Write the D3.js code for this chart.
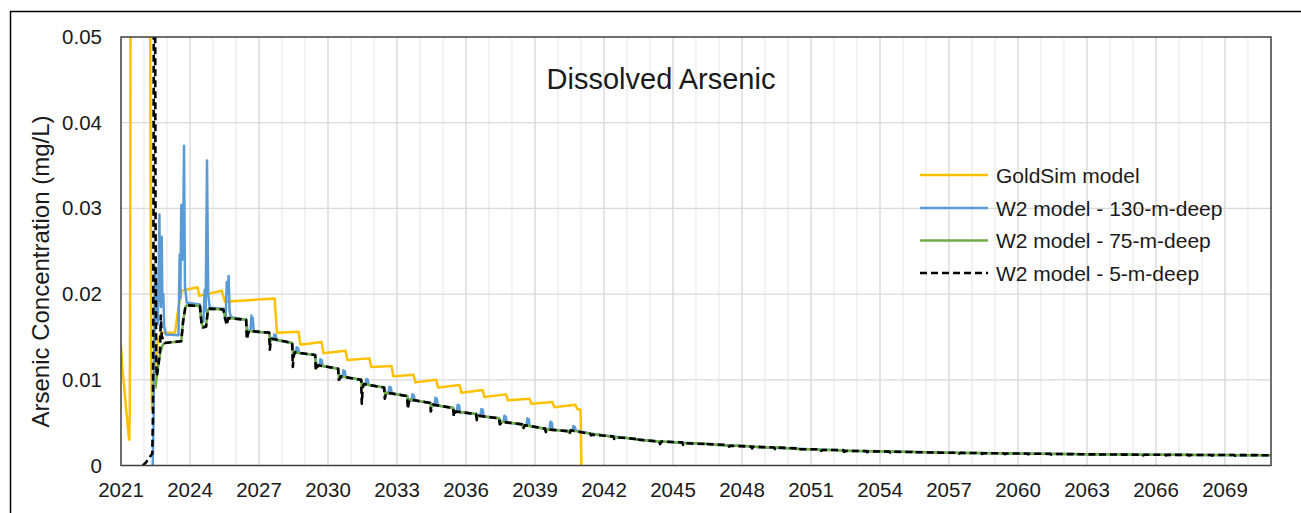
<!DOCTYPE html>
<html>
<head>
<meta charset="utf-8">
<script src="https://cdn.jsdelivr.net/npm/d3@7"></script>
<style>
  body { margin: 0; background: #fff; }
  svg { display: block; }
  text { font-family: "Liberation Sans", Arial, Helvetica, sans-serif; fill: #1a1a1a; }
</style>
</head>
<body>
<svg id="chart" width="1301" height="513"></svg>
<script>
// ---- Data: [decimal year, arsenic concentration in mg/L] ----
const goldsim = [
  [2021.00, 0.0140], [2021.05, 0.0115], [2021.13, 0.0094], [2021.20, 0.0073],
  [2021.27, 0.0052], [2021.33, 0.0035], [2021.36, 0.0030], [2021.38, 0.0060],
  [2021.40, 0.0250], [2021.42, 0.0620], [2021.85, 0.0800], [2022.26, 0.0620],
  [2022.29, 0.0300], [2022.32, 0.0110], [2022.35, 0.0066], [2022.38, 0.0068],
  [2022.45, 0.0105], [2022.60, 0.0145], [2022.75, 0.0155], [2023.35, 0.0155],
  [2023.50, 0.0185], [2023.64, 0.0204], [2024.33, 0.0208], [2024.40, 0.0198],
  [2024.72, 0.0200], [2025.38, 0.0204], [2025.52, 0.0191], [2027.68, 0.0195],
  [2027.78, 0.0155], [2028.72, 0.0156], [2028.80, 0.0141], [2029.72, 0.0144],
  [2029.80, 0.0131], [2030.76, 0.0134], [2030.84, 0.0123], [2031.80, 0.0125],
  [2031.88, 0.0115], [2032.76, 0.0116], [2032.84, 0.0104], [2033.72, 0.0106],
  [2033.80, 0.0097], [2034.70, 0.0100], [2034.78, 0.0091], [2035.72, 0.0094],
  [2035.80, 0.0085], [2036.72, 0.0088], [2036.80, 0.0080], [2037.74, 0.0083],
  [2037.82, 0.0076], [2038.76, 0.0078], [2038.84, 0.0072], [2039.76, 0.0074],
  [2039.84, 0.0068], [2040.76, 0.0071], [2040.84, 0.0066], [2040.98, 0.0065],
  [2041.02, 0.0000]
];

const w2Deep130 = [
  [2022.38, 0.0000], [2022.42, 0.0060], [2022.45, 0.0150], [2022.48, 0.0232],
  [2022.52, 0.0170], [2022.56, 0.0212], [2022.60, 0.0165], [2022.64, 0.0235],
  [2022.67, 0.0293], [2022.70, 0.0205], [2022.74, 0.0185], [2022.77, 0.0267],
  [2022.80, 0.0190], [2022.84, 0.0200], [2022.88, 0.0162], [2022.95, 0.0153],
  [2023.50, 0.0152], [2023.55, 0.0246], [2023.58, 0.0195], [2023.62, 0.0304],
  [2023.66, 0.0240], [2023.70, 0.0260], [2023.74, 0.0373], [2023.78, 0.0210],
  [2023.86, 0.0190], [2024.43, 0.0188], [2024.50, 0.0167], [2024.58, 0.0168],
  [2024.64, 0.0205], [2024.68, 0.0180], [2024.74, 0.0356], [2024.79, 0.0200],
  [2024.86, 0.0184], [2025.45, 0.0183], [2025.55, 0.0172], [2025.60, 0.0214],
  [2025.64, 0.0200], [2025.68, 0.0221], [2025.72, 0.0180], [2025.78, 0.0173],
  [2026.44, 0.0170], [2026.50, 0.0157], [2026.63, 0.0157], [2026.67, 0.0175],
  [2026.70, 0.0163], [2026.73, 0.0172], [2026.77, 0.0156], [2027.44, 0.0155],
  [2027.50, 0.0148], [2027.63, 0.0147], [2027.67, 0.0153], [2027.70, 0.0149],
  [2027.73, 0.0152], [2027.77, 0.0146], [2028.44, 0.0143], [2028.50, 0.0132],
  [2028.60, 0.0131], [2028.64, 0.0138], [2028.67, 0.0134], [2028.70, 0.0137],
  [2028.74, 0.0131], [2029.44, 0.0129], [2029.50, 0.0117], [2029.63, 0.0116],
  [2029.67, 0.0124], [2029.70, 0.0120], [2029.73, 0.0123], [2029.77, 0.0116],
  [2030.44, 0.0113], [2030.50, 0.0104], [2030.63, 0.0103], [2030.67, 0.0111],
  [2030.70, 0.0107], [2030.73, 0.0110], [2030.77, 0.0103], [2031.44, 0.0100],
  [2031.50, 0.0095], [2031.63, 0.0094], [2031.67, 0.0101], [2031.70, 0.0097],
  [2031.73, 0.0100], [2031.77, 0.0094], [2032.44, 0.0091], [2032.50, 0.0085],
  [2032.63, 0.0084], [2032.67, 0.0092], [2032.70, 0.0088], [2032.73, 0.0091],
  [2032.77, 0.0084], [2033.44, 0.0081], [2033.50, 0.0077], [2033.63, 0.0076],
  [2033.67, 0.0083], [2033.70, 0.0079], [2033.73, 0.0082], [2033.77, 0.0076],
  [2034.44, 0.0073], [2034.50, 0.0071], [2034.63, 0.0070], [2034.67, 0.0079],
  [2034.70, 0.0074], [2034.73, 0.0078], [2034.77, 0.0070], [2035.44, 0.0067],
  [2035.50, 0.0063], [2035.60, 0.0063], [2035.64, 0.0071], [2035.67, 0.0067],
  [2035.70, 0.0070], [2035.74, 0.0062], [2036.44, 0.0060], [2036.50, 0.0058],
  [2036.63, 0.0058], [2036.67, 0.0066], [2036.70, 0.0062], [2036.73, 0.0065],
  [2036.77, 0.0057], [2037.44, 0.0055], [2037.50, 0.0051], [2037.63, 0.0051],
  [2037.67, 0.0058], [2037.70, 0.0054], [2037.73, 0.0057], [2037.77, 0.0050],
  [2038.44, 0.0048], [2038.50, 0.0047], [2038.63, 0.0047], [2038.67, 0.0055],
  [2038.70, 0.0051], [2038.73, 0.0054], [2038.77, 0.0046], [2039.44, 0.0043],
  [2039.50, 0.0042], [2039.63, 0.0042], [2039.67, 0.0051], [2039.70, 0.0046],
  [2039.73, 0.0050], [2039.77, 0.0042], [2040.44, 0.0040], [2040.50, 0.0041],
  [2040.63, 0.0041], [2040.67, 0.0046], [2040.70, 0.0043], [2040.73, 0.0045],
  [2040.77, 0.0041], [2041.44, 0.0037], [2042.00, 0.0035], [2043.00, 0.0032],
  [2044.00, 0.0029], [2045.00, 0.0027], [2046.00, 0.0026], [2047.00, 0.0024],
  [2048.00, 0.0023], [2049.00, 0.0021], [2050.00, 0.0020], [2051.00, 0.0019],
  [2052.00, 0.0018], [2053.00, 0.0017], [2055.00, 0.0016], [2057.00, 0.0015],
  [2060.00, 0.0014], [2063.00, 0.00131], [2066.00, 0.00125], [2071.00, 0.0012]
];

const w2Deep75 = [
  [2022.50, 0.0090], [2022.56, 0.0105],
  [2022.64, 0.0120], [2022.72, 0.0133], [2022.80, 0.0140], [2022.90, 0.0143],
  [2023.62, 0.0145], [2023.70, 0.0168], [2023.80, 0.0185], [2023.86, 0.0187],
  [2024.43, 0.0186], [2024.50, 0.0167], [2024.56, 0.0162], [2024.70, 0.0163],
  [2024.78, 0.0182], [2024.86, 0.0183], [2025.45, 0.0182], [2025.55, 0.0170],
  [2025.62, 0.0167], [2025.68, 0.0172], [2026.44, 0.0170], [2026.48, 0.0153],
  [2026.56, 0.0157], [2027.44, 0.0155], [2027.48, 0.0144], [2027.56, 0.0148],
  [2028.44, 0.0143], [2028.48, 0.0128], [2028.56, 0.0132], [2029.44, 0.0129],
  [2029.48, 0.0113], [2029.56, 0.0117], [2030.44, 0.0113], [2030.48, 0.0101],
  [2030.56, 0.0104], [2031.44, 0.0100], [2031.48, 0.0090], [2031.56, 0.0095],
  [2032.44, 0.0091], [2032.48, 0.0082], [2032.56, 0.0085], [2033.44, 0.0081],
  [2033.48, 0.0073], [2033.56, 0.0077], [2034.44, 0.0073], [2034.48, 0.0067],
  [2034.56, 0.0071], [2035.44, 0.0067], [2035.48, 0.0060], [2035.56, 0.0063],
  [2036.44, 0.0060], [2036.48, 0.0055], [2036.56, 0.0058], [2037.44, 0.0055],
  [2037.48, 0.0049], [2037.56, 0.0051], [2038.44, 0.0048], [2038.48, 0.0044],
  [2038.56, 0.0047], [2039.44, 0.0043], [2039.48, 0.0040], [2039.56, 0.0042],
  [2040.44, 0.0040], [2040.48, 0.0038], [2040.56, 0.0041], [2041.44, 0.0037],
  [2042.00, 0.0035], [2042.50, 0.0033], [2043.00, 0.0032], [2043.50, 0.0030],
  [2044.00, 0.0029], [2044.50, 0.0028], [2045.00, 0.0027], [2045.50, 0.0026],
  [2046.00, 0.0026], [2046.50, 0.0025], [2047.00, 0.0024], [2047.50, 0.0023],
  [2048.00, 0.0023], [2048.50, 0.0022], [2049.00, 0.0021], [2049.50, 0.0021],
  [2050.00, 0.0020], [2050.50, 0.0019], [2051.00, 0.0019], [2051.50, 0.0018],
  [2052.00, 0.0018], [2052.50, 0.0017], [2053.00, 0.0017], [2054.00, 0.00165],
  [2055.00, 0.0016], [2056.00, 0.00155], [2057.00, 0.0015], [2058.00, 0.00147],
  [2059.00, 0.00143], [2060.00, 0.0014], [2061.00, 0.00137], [2062.00, 0.00134],
  [2063.00, 0.00131], [2064.00, 0.00129], [2065.00, 0.00127], [2066.00, 0.00125],
  [2067.00, 0.00124], [2068.00, 0.00123], [2069.00, 0.00122], [2070.00, 0.00121],
  [2071.00, 0.00120]
];

const w2Deep5 = [
  [2021.95, 0.0000], [2022.10, 0.0004], [2022.25, 0.0010], [2022.36, 0.0014],
  [2022.39, 0.0060], [2022.41, 0.0250], [2022.43, 0.0620], [2022.48, 0.0620],
  [2022.50, 0.0300], [2022.53, 0.0120], [2022.56, 0.0104], [2022.64, 0.0120],
  [2022.70, 0.0135], [2022.73, 0.0175], [2022.77, 0.0152], [2022.84, 0.0145],
  [2022.90, 0.0143], [2023.62, 0.0145], [2023.70, 0.0168], [2023.80, 0.0185],
  [2023.86, 0.0187], [2024.43, 0.0186], [2024.50, 0.0166], [2024.56, 0.0161],
  [2024.70, 0.0162], [2024.78, 0.0182], [2024.86, 0.0183], [2025.45, 0.0182],
  [2025.52, 0.0172], [2025.60, 0.0164], [2025.66, 0.0172], [2026.44, 0.0170],
  [2026.47, 0.0147], [2026.51, 0.0152], [2026.56, 0.0157], [2027.44, 0.0155],
  [2027.47, 0.0135], [2027.51, 0.0145], [2027.56, 0.0148], [2028.44, 0.0143],
  [2028.47, 0.0115], [2028.51, 0.0128], [2028.56, 0.0132], [2029.44, 0.0129],
  [2029.47, 0.0111], [2029.51, 0.0113], [2029.56, 0.0117], [2030.44, 0.0113],
  [2030.47, 0.0100], [2030.51, 0.0101], [2030.56, 0.0104], [2031.44, 0.0100],
  [2031.47, 0.0072], [2031.51, 0.0091], [2031.56, 0.0095], [2032.44, 0.0091],
  [2032.47, 0.0078], [2032.51, 0.0082], [2032.56, 0.0085], [2033.44, 0.0081],
  [2033.47, 0.0066], [2033.51, 0.0073], [2033.56, 0.0077], [2034.44, 0.0073],
  [2034.47, 0.0063], [2034.51, 0.0067], [2034.56, 0.0071], [2035.44, 0.0067],
  [2035.47, 0.0057], [2035.51, 0.0060], [2035.56, 0.0063], [2036.44, 0.0060],
  [2036.47, 0.0053], [2036.51, 0.0055], [2036.56, 0.0058], [2037.44, 0.0055],
  [2037.47, 0.0048], [2037.51, 0.0049], [2037.56, 0.0051], [2038.44, 0.0048],
  [2038.47, 0.0043], [2038.51, 0.0044], [2038.56, 0.0047], [2039.44, 0.0043],
  [2039.47, 0.0039], [2039.51, 0.0040], [2039.56, 0.0042], [2040.44, 0.0040],
  [2040.47, 0.0037], [2040.51, 0.0038], [2040.56, 0.0041], [2041.40, 0.0037],
  [2041.44, 0.0035], [2041.50, 0.0036], [2042.40, 0.0034], [2042.44, 0.0031],
  [2042.50, 0.0033], [2043.40, 0.0031], [2043.44, 0.0028], [2043.50, 0.0030],
  [2044.40, 0.0028], [2044.44, 0.0025], [2044.50, 0.0028], [2045.40, 0.0027],
  [2045.44, 0.0024], [2045.50, 0.0026], [2046.40, 0.0025], [2046.44, 0.0023],
  [2046.50, 0.0025], [2047.40, 0.0024], [2047.44, 0.0022], [2047.50, 0.0023],
  [2048.40, 0.0022], [2048.44, 0.0020], [2048.50, 0.0022], [2049.40, 0.0021],
  [2049.44, 0.0019], [2049.50, 0.0021], [2050.40, 0.0020], [2050.44, 0.0018],
  [2050.50, 0.0019], [2051.40, 0.0019], [2051.44, 0.0017], [2051.50, 0.0018],
  [2052.40, 0.0018], [2052.44, 0.0016], [2052.50, 0.0017], [2053.40, 0.00168],
  [2053.44, 0.00155], [2053.50, 0.00165], [2054.40, 0.00162], [2054.44, 0.00150],
  [2054.50, 0.00160], [2055.40, 0.00157], [2055.44, 0.00146], [2055.50, 0.00155],
  [2056.40, 0.00152], [2056.44, 0.00142], [2056.50, 0.00150], [2057.40, 0.00148],
  [2057.44, 0.00138], [2057.50, 0.00147], [2058.40, 0.00145], [2058.44, 0.00135],
  [2058.50, 0.00143], [2059.40, 0.00142], [2059.44, 0.00132], [2059.50, 0.00140],
  [2060.40, 0.00139], [2060.44, 0.00130], [2060.50, 0.00137], [2061.40, 0.00136],
  [2061.44, 0.00127], [2061.50, 0.00134], [2062.40, 0.00133], [2062.44, 0.00124],
  [2062.50, 0.00131], [2063.40, 0.00130], [2063.44, 0.00121], [2063.50, 0.00129],
  [2064.40, 0.00128], [2064.44, 0.00120], [2064.50, 0.00127], [2065.40, 0.00126],
  [2065.44, 0.00118], [2065.50, 0.00125], [2066.40, 0.00125], [2066.44, 0.00117],
  [2066.50, 0.00124], [2067.40, 0.00124], [2067.44, 0.00116], [2067.50, 0.00123],
  [2068.40, 0.00123], [2068.44, 0.00115], [2068.50, 0.00122], [2069.40, 0.00122],
  [2069.44, 0.00114], [2069.50, 0.00121], [2070.40, 0.00121], [2070.44, 0.00113],
  [2070.50, 0.00120], [2071.00, 0.00120]
];

const seriesNames = ["GoldSim model", "W2 model - 130-m-deep", "W2 model - 75-m-deep", "W2 model - 5-m-deep"];
const xTickYears = [2021, 2024, 2027, 2030, 2033, 2036, 2039, 2042, 2045, 2048, 2051, 2054, 2057, 2060, 2063, 2066, 2069];
const yTickValues = [0, 0.01, 0.02, 0.03, 0.04, 0.05];
const yTickLabels = ["0", "0.01", "0.02", "0.03", "0.04", "0.05"];

// ---- Layout ----
const svg = d3.select("#chart");
const plot = { left: 121, right: 1271, top: 37, bottom: 465.5 };

const x = d3.scaleLinear().domain([2021, 2071]).range([plot.left, plot.right]);
const y = d3.scaleLinear().domain([0, 0.05]).range([plot.bottom, plot.top]);

// outer chart frame
svg.append("rect")
  .attr("x", 10.5).attr("y", 11.5)
  .attr("width", 1400).attr("height", 600)
  .attr("fill", "none").attr("stroke", "#000").attr("stroke-width", 1.5);

// vertical gridlines: one per year, darker on labelled years
const gridYears = d3.range(2022, 2071);
svg.append("g").selectAll("line").data(gridYears).join("line")
  .attr("x1", d => x(d)).attr("x2", d => x(d))
  .attr("y1", plot.top).attr("y2", plot.bottom)
  .attr("stroke", d => ((d - 2021) % 3 === 0) ? "#d6d6d6" : "#ececec")
  .attr("stroke-width", 1.3);

// horizontal gridlines
svg.append("g").selectAll("line").data(yTickValues.slice(1, -1)).join("line")
  .attr("x1", plot.left).attr("x2", plot.right)
  .attr("y1", d => y(d)).attr("y2", d => y(d))
  .attr("stroke", "#d9d9d9").attr("stroke-width", 1.3);

// series, clipped to the plot area
svg.append("clipPath").attr("id", "plot-clip")
  .append("rect")
  .attr("x", plot.left).attr("y", plot.top)
  .attr("width", plot.right - plot.left).attr("height", plot.bottom - plot.top);

const line = d3.line().x(d => x(d[0])).y(d => y(d[1]));

const styles = [
  { data: goldsim,   color: "#FFC000", width: 2.5, dash: null },
  { data: w2Deep130, color: "#5B9BD5", width: 2.5, dash: null },
  { data: w2Deep75,  color: "#70AD47", width: 2.5, dash: null },
  { data: w2Deep5,   color: "#000000", width: 2.6, dash: "7,4" }
];

const seriesG = svg.append("g").attr("clip-path", "url(#plot-clip)");
styles.forEach(s => {
  seriesG.append("path")
    .attr("d", line(s.data))
    .attr("fill", "none")
    .attr("stroke", s.color)
    .attr("stroke-width", s.width)
    .attr("stroke-linejoin", "round")
    .attr("stroke-dasharray", s.dash);
});

// plot area border
svg.append("rect")
  .attr("x", plot.left).attr("y", plot.top)
  .attr("width", plot.right - plot.left).attr("height", plot.bottom - plot.top)
  .attr("fill", "none").attr("stroke", "#3f3f3f").attr("stroke-width", 1.5);

// x tick labels
svg.append("g").selectAll("text").data(xTickYears).join("text")
  .attr("x", d => x(d)).attr("y", 497)
  .attr("text-anchor", "middle")
  .attr("font-size", 20.5)
  .text(d => d);

// y tick labels
svg.append("g").selectAll("text").data(yTickValues).join("text")
  .attr("x", 102).attr("y", d => y(d) + 7)
  .attr("text-anchor", "end")
  .attr("font-size", 20.5)
  .text((d, i) => yTickLabels[i]);

// y axis title
svg.append("text")
  .attr("transform", "translate(49,271.5) rotate(-90)")
  .attr("text-anchor", "middle")
  .attr("font-size", 24)
  .text("Arsenic Concentration (mg/L)");

// chart title
svg.append("text")
  .attr("x", 661).attr("y", 89)
  .attr("text-anchor", "middle")
  .attr("font-size", 29)
  .text("Dissolved Arsenic");

// legend
const legendRows = [175, 208, 240.5, 273];
const legend = svg.append("g");
styles.forEach((s, i) => {
  legend.append("line")
    .attr("x1", 920).attr("x2", 988)
    .attr("y1", legendRows[i]).attr("y2", legendRows[i])
    .attr("stroke", s.color).attr("stroke-width", s.width)
    .attr("stroke-dasharray", s.dash);
  legend.append("text")
    .attr("x", 996).attr("y", legendRows[i] + 7.5)
    .attr("font-size", 21)
    .text(seriesNames[i]);
});
</script>
</body>
</html>
